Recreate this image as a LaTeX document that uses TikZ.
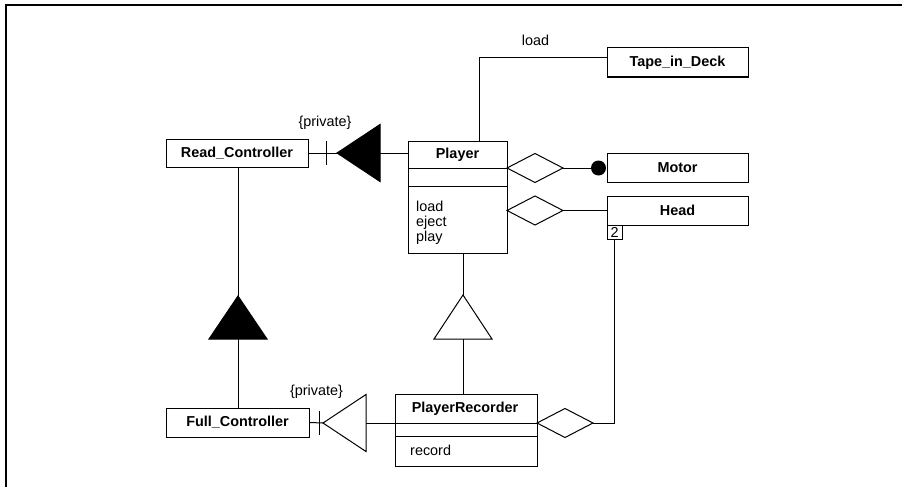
\documentclass[tikz,border=0pt]{standalone}
\usepackage{fontspec}
\setmainfont{Liberation Sans}
\newcommand{\diagfont}{\fontsize{14.4}{15}\selectfont}
\begin{document}
\begin{tikzpicture}[x=1pt,y=-1pt,
  line/.style={line width=1pt,black},
  cls/.style={draw,line width=1pt,rectangle,inner sep=0pt,font=\diagfont\bfseries},
  lbl/.style={inner sep=0pt,font=\diagfont},
  ops/.style={inner sep=0pt,align=left,font=\diagfont},
  solidtri/.style={line,fill=black},
  opentri/.style={line,fill=white}]
\useasboundingbox (0,0) rectangle (902,487);
% partial frame
\draw[line width=2pt] (6,488) -- (6,5) -- (903,5);

% plain classes
\node[cls,minimum width=142pt,minimum height=28pt] (rc) at (237,153) {Read\_Controller};
\node[cls,minimum width=143pt,minimum height=29pt] (fc) at (237.5,422.5) {Full\_Controller};
\node[cls,minimum width=141pt,minimum height=29pt] (tape) at (677.5,62.5) {Tape\_in\_Deck};
\node[cls,minimum width=141pt,minimum height=29pt] (motor) at (677.5,167.5) {Motor};
\node[cls,minimum width=141pt,minimum height=29pt] (head) at (677.5,210.5) {Head};
\node[draw,line width=1pt,inner sep=0pt,minimum width=15pt,minimum height=14pt,
      font=\diagfont] (two) at (614.5,232) {2};

% Player class with compartments
\node[draw,line width=1pt,inner sep=0pt,minimum width=99pt,minimum height=112pt] (player) at (457.5,197) {};
\node[lbl,font=\diagfont\bfseries] (ptitle) at (457.5,155) {Player};
\draw[line] (408,168) -- (507,168);
\draw[line] (408,186) -- (507,186);
\node[ops,anchor=west] (pops) at (416,222.5) {load\\eject\\play};

% PlayerRecorder class with compartments
\node[draw,line width=1pt,inner sep=0pt,minimum width=142pt,minimum height=72pt] (pr) at (466,430) {};
\node[lbl,font=\diagfont\bfseries] (prtitle) at (465,409) {PlayerRecorder};
\draw[line] (395,423) -- (537,423);
\draw[line] (395,436) -- (537,436);
\node[ops,anchor=west] (props) at (410,450.5) {record};

% private inheritance: Player -> Read_Controller
\coordinate (t1tip) at (337,153);
\coordinate (t1base) at (380,153);
\draw[line] (rc.east) -- (t1tip);
\draw[line] (326,141) -- (326,165);
\draw[solidtri] (t1tip) -- (380,124.5) -- (380,181.5) -- cycle;
\draw[line] (t1base) -- (player.west |- t1base);
\node[lbl] (priv1) at (325,123) {\{private\}};

% private inheritance: PlayerRecorder -> Full_Controller
\coordinate (t2tip) at (323,423);
\coordinate (t2base) at (366,423);
\draw[line] (fc.east) -- (t2tip);
\draw[line] (319,411) -- (319,435);
\draw[opentri] (t2tip) -- (366,394.5) -- (366,451.5) -- cycle;
\draw[line] (t2base) -- (pr.west |- t2base);
\node[lbl] (priv2) at (316.5,392) {\{private\}};

% Full_Controller -> Read_Controller
\coordinate (t3tip) at (238,296);
\coordinate (t3base) at (238,339);
\draw[line] (rc.south -| t3tip) -- (t3tip);
\draw[solidtri] (t3tip) -- (209,339) -- (267,339) -- cycle;
\draw[line] (t3base) -- (fc.north -| t3base);

% PlayerRecorder -> Player
\coordinate (t4tip) at (463,295);
\coordinate (t4base) at (463,339);
\draw[line] (player.south -| t4tip) -- (t4tip);
\draw[opentri] (t4tip) -- (434,339) -- (492,339) -- cycle;
\draw[line] (t4base) -- (pr.north -| t4base);

% Player -- Tape_in_Deck
\draw[line] (player.north -| 479,0) |- ([yshift=4.5pt]tape.west);
\node[lbl] (loadlbl) at (535.5,40) {load};

% Player <>-- Motor
\coordinate (d1l) at (507,168);
\coordinate (d1r) at (563,168);
\draw[line] (d1l) -- (535,153.5) -- (d1r) -- (535,182.5) -- cycle;
\node[circle,fill=black,inner sep=0pt,minimum size=15pt] (dot) at (598.5,168) {};
\draw[line] (d1r) -- (dot.center);

% Player <>-- Head
\coordinate (d2l) at (507,210.5);
\coordinate (d2r) at (563,210.5);
\draw[line] (d2l) -- (535,196) -- (d2r) -- (535,225) -- cycle;
\draw[line] (d2r) -- (head.west);

% PlayerRecorder <>-- Head
\coordinate (d3l) at (537,423);
\coordinate (d3r) at (593,423);
\draw[line] (d3l) -- (565,408.5) -- (d3r) -- (565,437.5) -- cycle;
\draw[line] (two.south) |- (d3r);
\end{tikzpicture}
\end{document}
